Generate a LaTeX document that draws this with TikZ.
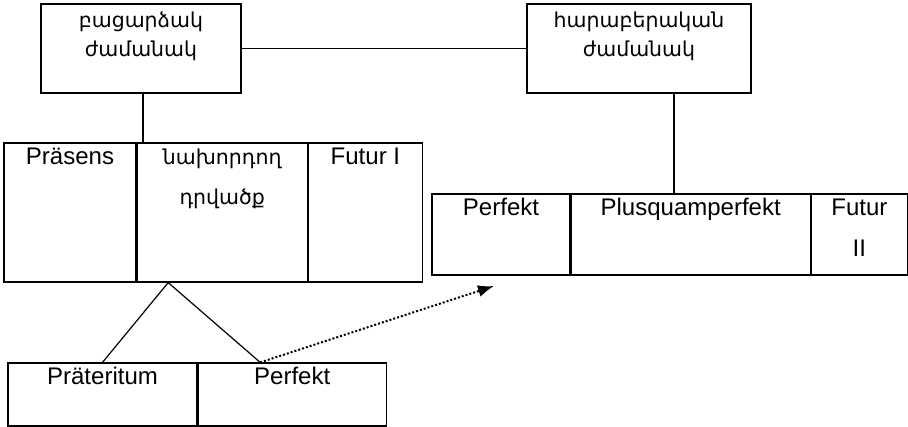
\documentclass[tikz,border=0pt]{standalone}
\usepackage{fontspec}
\setmainfont{Liberation Sans}
\newfontfamily\armfont{DejaVu Sans}
\usetikzlibrary{arrows.meta, positioning}

\begin{document}
\begin{tikzpicture}[
  x=1pt, y=-1pt,
  cell/.style={draw, line width=1.2pt, inner sep=0pt},
  lbl/.style={inner sep=0pt, align=center, font=\fontsize{24}{41}\selectfont},
  arm/.style={inner sep=0pt, align=center, font=\armfont\fontsize{20.5}{29}\selectfont},
  link/.style={line width=1.2pt},
  arrow/.style={-{Latex[length=16pt,width=12pt]}, line width=2pt, dotted}
]
  \useasboundingbox (0,0) rectangle (908,427);

  % Top boxes
  \node[cell, minimum width=200pt, minimum height=89pt] (bacar) at (141,48.5) {};
  \node[cell, minimum width=224pt, minimum height=89pt] (harab) at (639,48.5) {};
  \node[arm, anchor=base] (bacartxt) at ([yshift=-53pt]bacar.north) {բացարձակ\\ժամանակ};
  \node[arm, anchor=base] (harabtxt) at ([yshift=-53pt]harab.north) {հարաբերական\\ժամանակ};

  % Absolute tenses
  \node[cell, minimum width=132pt, minimum height=139pt] (pras) at (70,212.5) {};
  \node[cell, minimum width=170pt, minimum height=139pt, right=0pt of pras] (nax) {};
  \node[cell, minimum width=114pt, minimum height=139pt, right=0pt of nax] (fut1) {};
  \node[lbl, anchor=base] (prastxt) at ([yshift=-22pt]pras.north) {Präsens};
  \node[arm, anchor=base, font=\armfont\fontsize{20.5}{40}\selectfont] (naxtxt) at ([yshift=-62pt]nax.north) {նախորդող\\դրվածք};
  \node[lbl, anchor=base] (fut1txt) at ([yshift=-22pt]fut1.north) {Futur I};

  % Relative tenses
  \node[cell, minimum width=138pt, minimum height=81pt] (perf) at (501,234.5) {};
  \node[cell, minimum width=239pt, minimum height=81pt, right=0pt of perf] (plusq) {};
  \node[cell, minimum width=96pt, minimum height=81pt, right=0pt of plusq] (fut2) {};
  \node[lbl, anchor=base] (perftxt) at ([yshift=-22pt]perf.north) {Perfekt};
  \node[lbl, anchor=base] (plusqtxt) at ([yshift=-22pt]plusq.north) {Plusquamperfekt};
  \node[lbl, anchor=base] (fut2txt) at ([yshift=-63pt]fut2.north) {Futur\\II};

  % Past forms
  \node[cell, minimum width=189pt, minimum height=63pt] (prat) at (102.5,394.5) {};
  \node[cell, minimum width=188pt, minimum height=63pt, right=0pt of prat] (perfb) {};
  \node[lbl, anchor=base] (prattxt) at ([yshift=-22pt]prat.north) {Präteritum};
  \node[lbl, anchor=base] (perfbtxt) at ([yshift=-22pt]perfb.north) {Perfekt};

  \coordinate (apex) at ([xshift=-54pt]nax.south);
  \coordinate (fork) at ([xshift=-32pt]perfb.north);
  \coordinate (goal) at (494,286);

  % Connectors
  \draw[link] (bacar.east) -- (harab.west);
  \draw[link] ([xshift=2pt]bacar.south) -- ([xshift=2pt]bacar.south |- nax.north);
  \draw[link] ([xshift=35pt]harab.south) -- ([xshift=35pt]harab.south |- plusq.north);
  \draw[link] (prat.north) -- (apex) -- (fork);
  \draw[arrow] (fork) -- (goal);
\end{tikzpicture}
\end{document}
